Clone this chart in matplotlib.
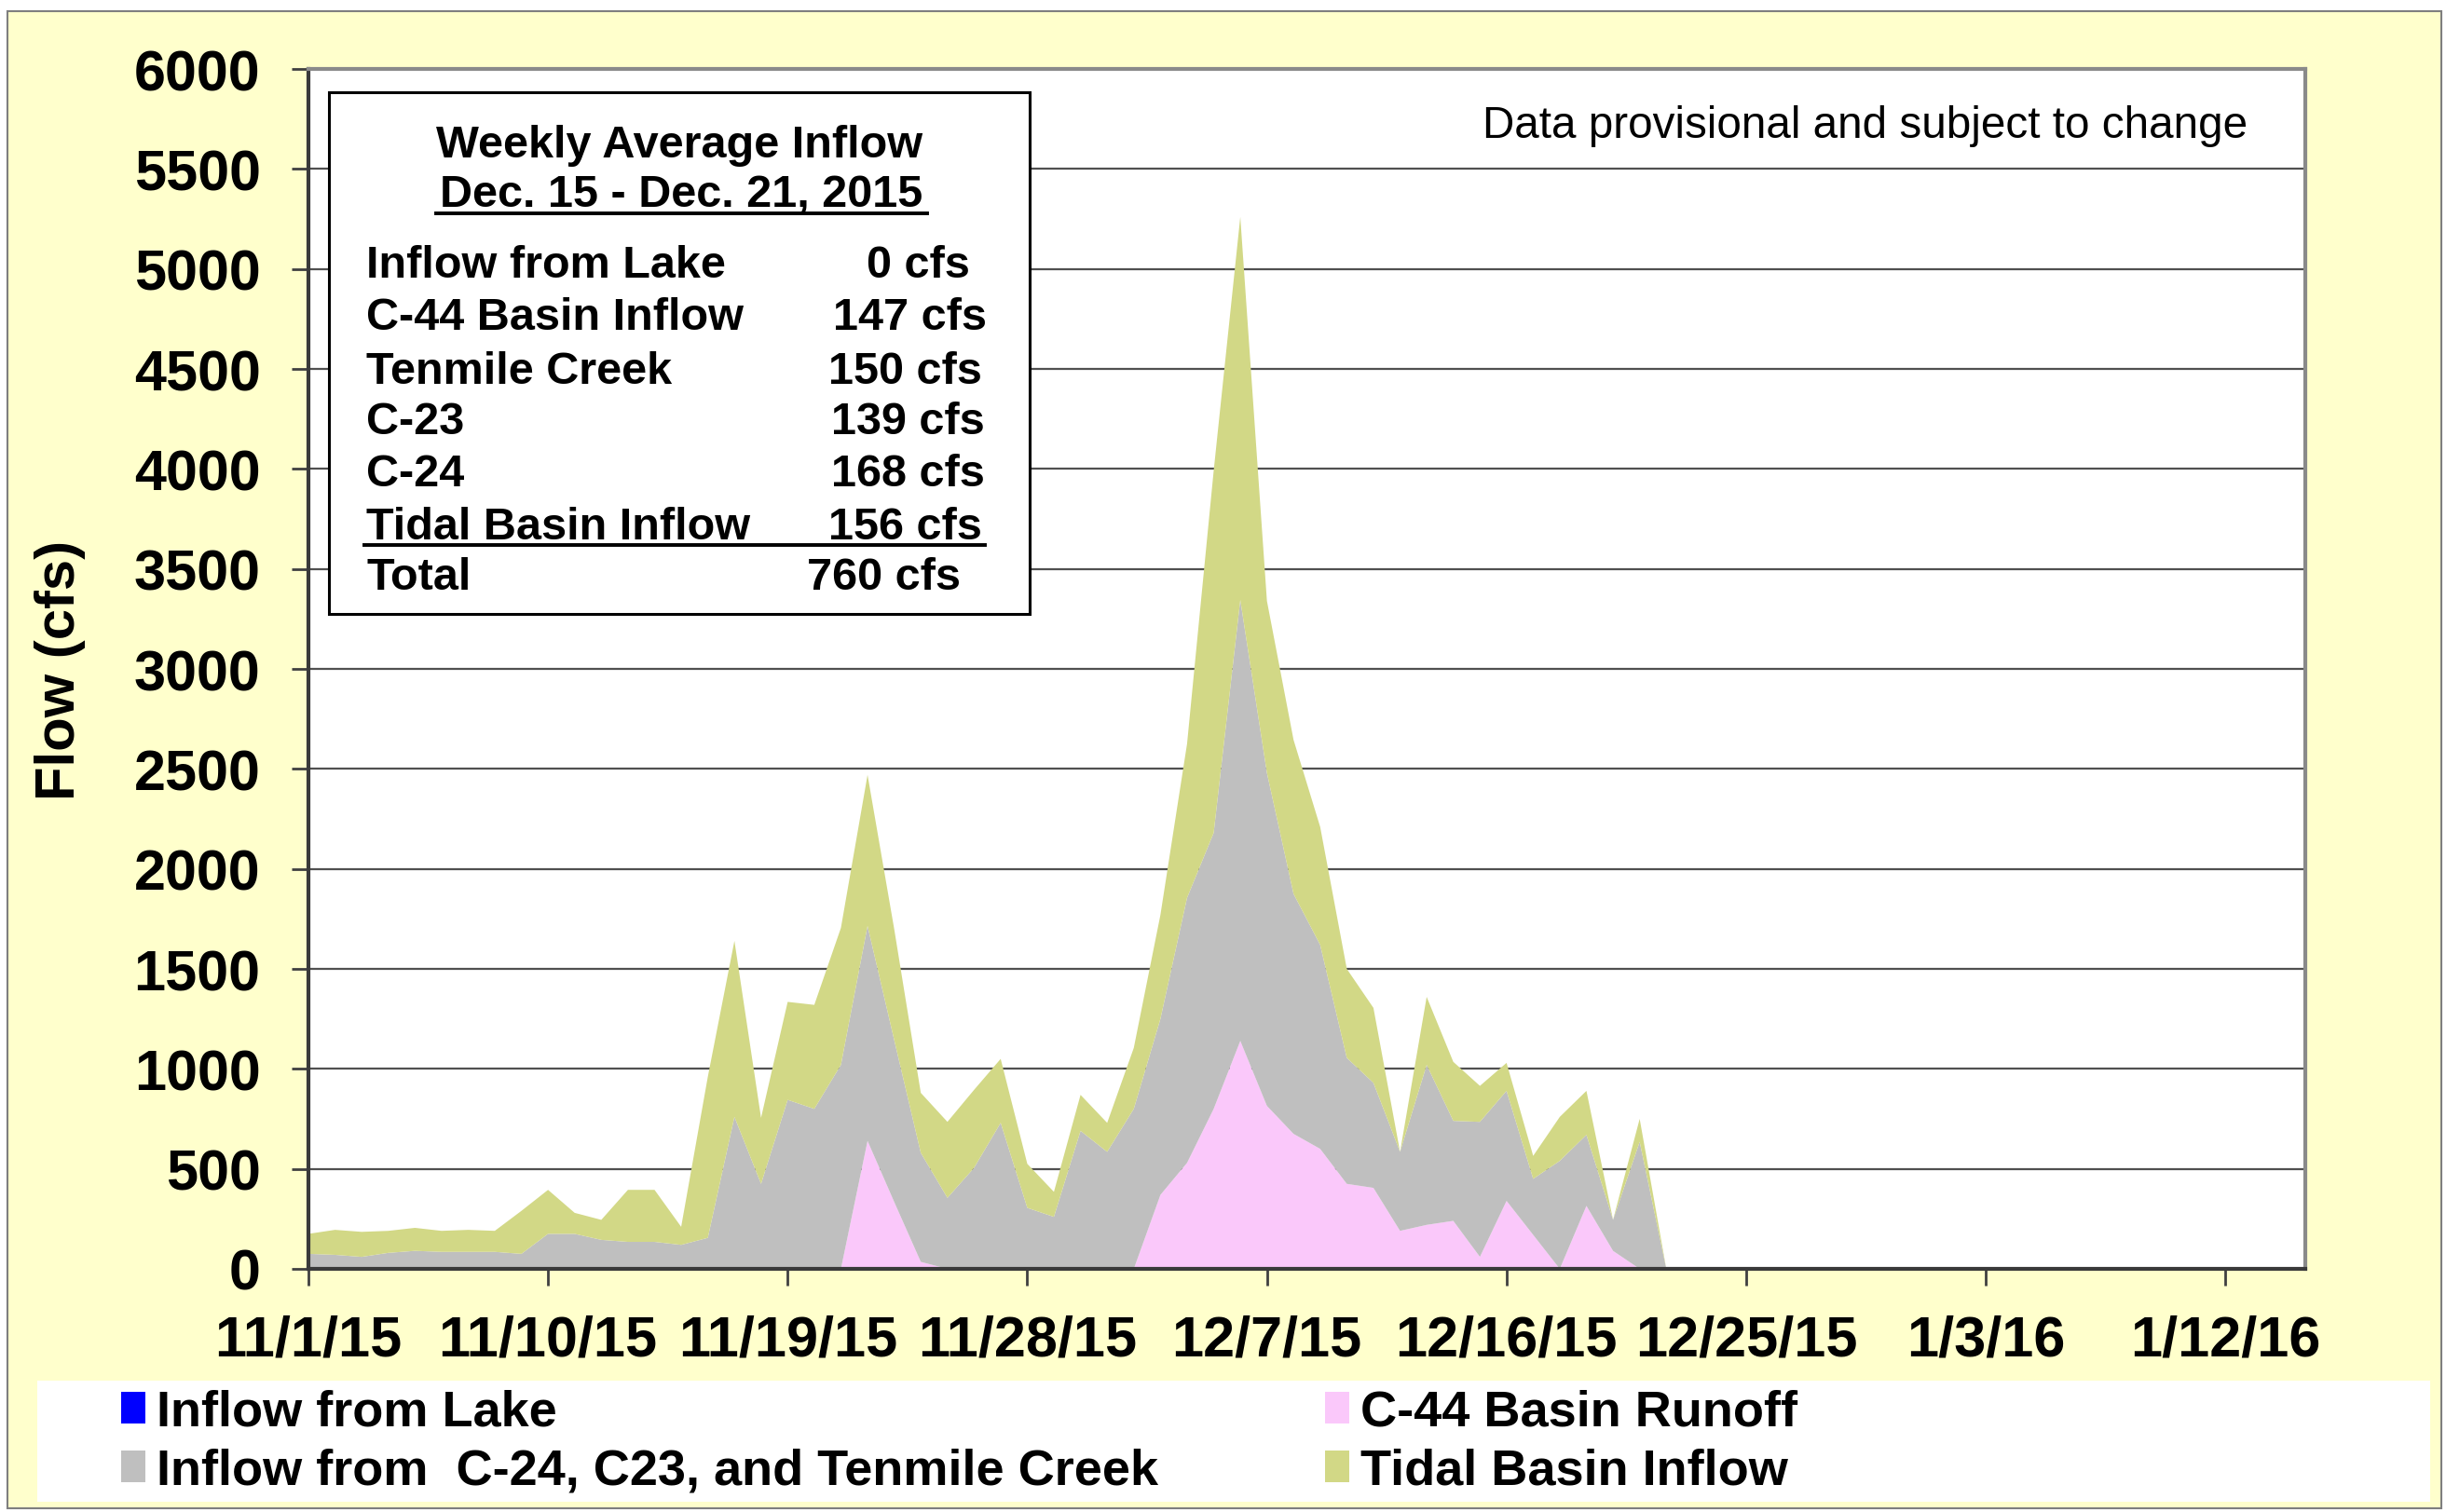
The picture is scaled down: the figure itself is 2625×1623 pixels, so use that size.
import numpy as np
import matplotlib
matplotlib.use("Agg")
import matplotlib.pyplot as plt
from matplotlib.patches import Rectangle
from matplotlib.lines import Line2D

# ---------------- data ----------------
days = np.arange(52)  # day 0 = 11/1/15
lake = [0] * 52
c44 = [0, 0, 0, 0, 0, 0, 0, 0, 0, 0, 0, 0, 0, 0, 0, 0, 0, 0, 0, 0, 0,
       640, 335, 35, 0, 0, 0, 0, 0, 0, 0, 0,
       370, 530, 800, 1140, 815, 675, 600, 425, 405, 190, 220, 240, 60, 340, 170, 0, 315, 90, 0, 0]
basins = [75, 70, 60, 80, 90, 85, 85, 85, 75, 175, 175, 145, 135, 135, 120, 155, 760, 425, 845, 800,
          1020, 1075, 810, 545, 355, 505, 730, 305, 260, 690, 585, 800, 880, 1325, 1380, 2205, 1665,
          1200, 1020, 630, 525, 395, 800, 500, 675, 550, 280, 540, 355, 155, 635, 0]
tidal = [100, 125, 125, 110, 115, 105, 110, 105, 215, 220, 105, 100, 260, 260, 90, 805, 880, 330, 490,
         520, 685, 755, 555, 300, 380, 390, 320, 220, 125, 180, 145, 305, 520, 770, 1810, 1915, 860,
         770, 590, 445, 375, 0, 340, 295, 180, 140, 115, 220, 220, 0, 115, 0]

series_names = ["Inflow from Lake", "C-44 Basin Runoff",
                "Inflow from  C-24, C23, and Tenmile Creek", "Tidal Basin Inflow"]
series_colors = ["#0000FF", "#FAC8FA", "#BFBFBF", "#D2D886"]

xtick_pos = list(range(0, 73, 9))
xtick_labels = ["11/1/15", "11/10/15", "11/19/15", "11/28/15", "12/7/15",
                "12/16/15", "12/25/15", "1/3/16", "1/12/16"]
yticks = list(range(0, 6001, 500))

box_title = ["Weekly Average Inflow", "Dec. 15 - Dec. 21, 2015"]
box_labels = ["Inflow from Lake", "C-44 Basin Inflow", "Tenmile Creek", "C-23", "C-24",
              "Tidal Basin Inflow", "Total"]
box_values = ["0 cfs", "147 cfs", "150 cfs", "139 cfs", "168 cfs", "156 cfs", "760 cfs"]

# ---------------- figure ----------------
W, H = 2625, 1624
plt.rcParams["font.family"] = ["Liberation Sans", "DejaVu Sans"]
fig = plt.figure(figsize=(W / 100, H / 100), dpi=100)
fig.patch.set_facecolor("white")


def fx(px):
    return px / W


def fy(py):
    return 1 - py / H


# yellow background with border
fig.add_artist(Rectangle((fx(8), fy(1620)), fx(2620) - fx(8), fy(13) - fy(1620),
                         transform=fig.transFigure, facecolor="#FFFFCC",
                         edgecolor="#7f7f7f", lw=1.5, zorder=-10))
# white legend band
fig.add_artist(Rectangle((fx(40), fy(1613)), fx(2608) - fx(40), fy(1483) - fy(1613),
                         transform=fig.transFigure, facecolor="white",
                         edgecolor="none", zorder=-5))

ax = fig.add_axes([fx(331), fy(1363), fx(2474) - fx(331), fy(75) - fy(1363)])
ax.set_facecolor("white")
polys = ax.stackplot(days, lake, c44, basins, tidal, colors=series_colors,
                     labels=series_names, linewidth=0)

ax.set_xlim(0, 75)
ax.set_ylim(0, 6000)
ax.set_xticks(xtick_pos)
ax.set_xticklabels(xtick_labels)
ax.set_yticks(yticks)
ax.yaxis.grid(True, color="#505050", lw=1.6)
ax.set_axisbelow(True)

ax.tick_params(axis="both", direction="out", length=13, width=2, color="#404040",
               labelsize=44)
ax.tick_params(axis="y", pad=24)
ax.tick_params(axis="x", pad=22)
for lab in ax.get_xticklabels() + ax.get_yticklabels():
    lab.set_fontweight("bold")

for side in ["left", "bottom"]:
    ax.spines[side].set_color("#3a3a3a")
    ax.spines[side].set_linewidth(3)
for side in ["top", "right"]:
    ax.spines[side].set_color("#8a8a8a")
    ax.spines[side].set_linewidth(3)

ax.set_ylabel("Flow (cfs)", fontsize=43, fontweight="bold")
ax.yaxis.set_label_coords((64 - 331) / (2474 - 331), 0.5)
ax.yaxis.label.set_verticalalignment("center")

# provisional note
fig.text(fx(2412), fy(148), "Data provisional and subject to change", ha="right",
         va="baseline", fontsize=34.3)

# summary box
fig.add_artist(Rectangle((fx(353), fy(660)), fx(1105) - fx(353), fy(100) - fy(660),
                         transform=fig.transFigure, facecolor="white",
                         edgecolor="black", lw=2.2, zorder=5))
fs = 35
off = 17
fig.text(fx(729), fy(152 + off), box_title[0], ha="center", va="baseline",
         fontsize=fs, fontweight="bold", zorder=6)
fig.text(fx(731), fy(206 + off), box_title[1], ha="center", va="baseline",
         fontsize=fs, fontweight="bold", zorder=6)
fig.add_artist(Line2D([fx(468), fx(995)], [fy(230), fy(230)], transform=fig.transFigure,
                      color="black", lw=2.8, zorder=6))
row_y = [281, 337, 395, 449, 505, 562, 616]
val_right = [1041, 1059, 1054, 1057, 1057, 1054, 1031]
for lab, val, yy, xr in zip(box_labels, box_values, row_y, val_right):
    fig.text(fx(393), fy(yy + off), lab, ha="left", va="baseline", fontsize=fs,
             fontweight="bold", zorder=6)
    fig.text(fx(xr), fy(yy + off), val, ha="right", va="baseline", fontsize=fs,
             fontweight="bold", zorder=6)
fig.add_artist(Line2D([fx(391), fx(1057)], [fy(586), fy(586)], transform=fig.transFigure,
                      color="black", lw=2.8, zorder=6))

# legend
order = [0, 2, 1, 3]
fig.legend([polys[i] for i in order], [series_names[i] for i in order],
           loc="upper left", bbox_to_anchor=(fx(130), fy(1492)), ncol=2,
           frameon=False, prop={"weight": "bold", "size": 39},
           handlelength=0.48, handleheight=0.6, handletextpad=0.22,
           columnspacing=3.3, labelspacing=0.24, borderpad=0, borderaxespad=0)

fig.savefig("out.png", dpi=100, facecolor="white")
